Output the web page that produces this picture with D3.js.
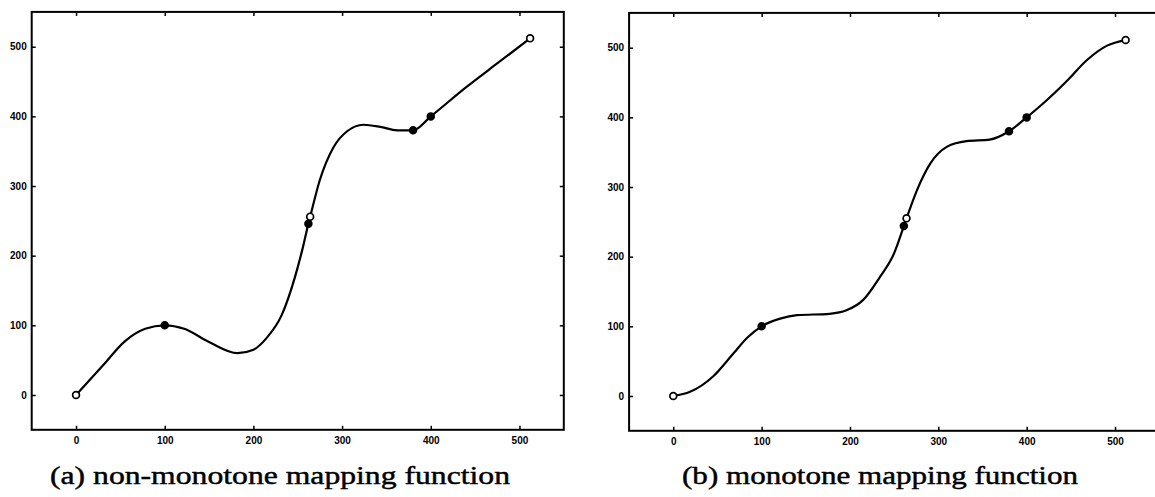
<!DOCTYPE html>
<html><head><meta charset="utf-8">
<script src="https://cdn.jsdelivr.net/npm/d3@7"></script>
<style>body{margin:0;background:#fff;overflow:hidden} svg{display:block}</style>
</head><body>
<svg id="c" width="1155" height="497"></svg>
<script>
// ---- data ----
const xTicks = [0, 100, 200, 300, 400, 500];
const yTicks = [0, 100, 200, 300, 400, 500];
const xDomain = [-50, 550];
const yDomain = [-50, 550];

const curveA = [[0,0],[30,42],[55,77],[78,95],[100,100],[122,95],[150,76],[182,60],[200,65],[215,82],[232,115],[247,170],[256,213],[262,246],[264,256],[275,309],[290,355],[306,379],[324,388],[343,385],[362,380],[380,380],[400,400],[440,442],[476,477],[512,512]];
const knotsA = [[0,0,"open"],[100,100,"filled"],[262,246,"filled"],[264,256,"open"],[380,380,"filled"],[400,400,"filled"],[512,512,"open"]];

const curveB = [[0,0],[19,6],[45,28],[68,61],[84,84],[100,100],[121,111],[140,116],[177,118],[196,123],[215,138],[234,171],[250,205],[261,244],[264,255],[276,296],[291,334],[310,358],[332,366],[358,368],[380,380],[400,400],[423,425],[446,453],[468,482],[491,503],[512,511]];
const knotsB = [[0,0,"open"],[100,100,"filled"],[261,244,"filled"],[264,255,"open"],[380,380,"filled"],[400,400,"filled"],[512,511,"open"]];

const titles = ["(a) non-monotone mapping function", "(b) monotone mapping function"];

// ---- layout ----
const panels = [
  {curve: curveA, knots: knotsA, title: titles[0], xr: [31.7, 563.8], yr: [429.8, 11.9], tx: 50, tl: 460},
  {curve: curveB, knots: knotsB, title: titles[1], xr: [629.1, 1159.2], yr: [430.8, 12.9], tx: 682, tl: 396}
];

const svg = d3.select("#c");

panels.forEach(p => {
  const x = d3.scaleLinear().domain(xDomain).range(p.xr);
  const y = d3.scaleLinear().domain(yDomain).range(p.yr);
  const g = svg.append("g");

  const axStyle = sel => {
    sel.select(".domain").remove();
    sel.selectAll(".tick line").attr("stroke", "#000").attr("stroke-width", 1.5);
    sel.selectAll(".tick text").attr("font-family", "Liberation Sans, Arial, sans-serif")
      .attr("font-weight", "bold").attr("font-size", 10).attr("fill", "#000");
  };

  g.append("g").attr("transform", `translate(0,${p.yr[0]})`)
    .call(d3.axisBottom(x).tickValues(xTicks).tickSizeInner(-4).tickSizeOuter(0).tickPadding(7)).call(axStyle);
  g.append("g").attr("transform", `translate(0,${p.yr[1]})`)
    .call(d3.axisTop(x).tickValues(xTicks).tickSizeInner(-4).tickSizeOuter(0).tickFormat("")).call(axStyle);
  g.append("g").attr("transform", `translate(${p.xr[0]},0)`)
    .call(d3.axisLeft(y).tickValues(yTicks).tickSizeInner(-4).tickSizeOuter(0).tickPadding(5)).call(axStyle);
  g.append("g").attr("transform", `translate(${p.xr[1]},0)`)
    .call(d3.axisRight(y).tickValues(yTicks).tickSizeInner(-4).tickSizeOuter(0).tickFormat("")).call(axStyle);

  // frame
  g.append("rect")
    .attr("x", x(xDomain[0])).attr("y", y(yDomain[1]))
    .attr("width", x(xDomain[1]) - x(xDomain[0]))
    .attr("height", y(yDomain[0]) - y(yDomain[1]))
    .attr("fill", "none").attr("stroke", "#000").attr("stroke-width", 2);

  // curve
  const line = d3.line().x(d => x(d[0])).y(d => y(d[1])).curve(d3.curveMonotoneX);
  g.append("path").datum(p.curve).attr("d", line)
    .attr("fill", "none").attr("stroke", "#000").attr("stroke-width", 2.2);

  // knots
  g.selectAll("circle.k").data(p.knots).join("circle")
    .attr("cx", d => x(d[0])).attr("cy", d => y(d[1])).attr("r", 3.4)
    .attr("fill", d => d[2] === "open" ? "#fff" : "#000")
    .attr("stroke", "#000").attr("stroke-width", 1.7);

  // title
  g.append("text").attr("x", p.tx).attr("y", 484)
    .attr("font-family", "Liberation Serif, Times New Roman, serif")
    .attr("font-size", 26).attr("fill", "#000")
    .attr("stroke", "#000").attr("stroke-width", 0.45)
    .attr("textLength", p.tl).attr("lengthAdjust", "spacingAndGlyphs")
    .text(p.title);
});
</script>
</body></html>
